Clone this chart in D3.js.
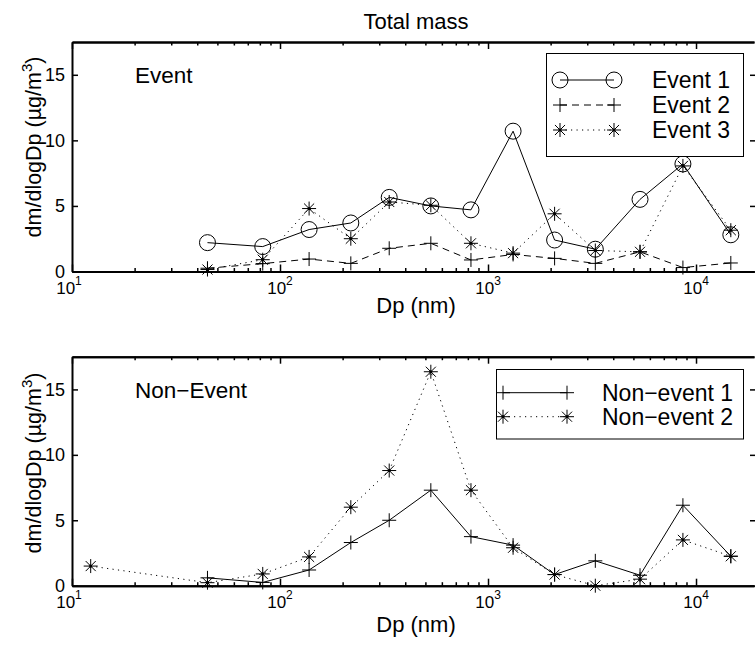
<!DOCTYPE html>
<html>
<head>
<meta charset="utf-8">
<script src="https://cdn.jsdelivr.net/npm/d3@7"></script>
<style>
  html, body { margin: 0; padding: 0; background: #fff; }
  svg { display: block; font-family: "Liberation Sans", Arial, Helvetica, sans-serif; }
</style>
</head>
<body>
<svg id="chart" width="755" height="645"></svg>
<script>
// Impactor stage mid-point diameters (nm)
const diameters = [12.3, 44.8, 82.6, 138, 219, 335, 531, 828, 1320, 2090, 3280, 5380, 8650, 14700];

// Mass size distributions dm/dlogDp (µg/m3); null = stage not reported
const event1 = [null, 2.2, 1.9, 3.2, 3.7, 5.65, 5.0, 4.7, 10.7, 2.4, 1.7, 5.5, 8.2, 2.8];
const event2 = [null, 0.25, 0.6, 0.95, 0.62, 1.77, 2.15, 0.88, 1.3, 1.0, 0.62, 1.5, 0.3, 0.65];
const event3 = [null, 0.15, 0.9, 4.8, 2.5, 5.3, 5.05, 2.15, 1.4, 4.4, 1.6, 1.5, 8.05, 3.15];
const nonEvent1 = [null, 0.6, 0.25, 1.2, 3.3, 5.0, 7.3, 3.75, 3.1, 0.85, 1.9, 0.8, 6.15, 2.25];
const nonEvent2 = [1.5, 0.23, 0.9, 2.2, 6.0, 8.8, 16.35, 7.3, 2.9, 0.85, 0, 0.5, 3.5, 2.25];

const yTicks = [0, 5, 10, 15];
const xMajorTicks = [10, 100, 1000, 10000];
const xExponents = ["1", "2", "3", "4"];

const svg = d3.select("#chart");

const X0 = 72, X1 = 754;
const x = d3.scaleLog().domain([10, 19000]).range([X0, X1]);

const xMinor = [];
[10, 100, 1000].forEach(d => { for (let k = 2; k <= 9; k++) xMinor.push(d * k); });

// marker drawers
function drawMarker(g, type, cx, cy) {
  const s = 7;
  if (type === "circle") {
    g.append("circle").attr("cx", cx).attr("cy", cy).attr("r", 8)
      .attr("fill", "none").attr("stroke", "#000").attr("stroke-width", 1);
  } else if (type === "plus") {
    g.append("path").attr("d", `M${cx - s},${cy}H${cx + s}M${cx},${cy - s}V${cy + s}`)
      .attr("stroke", "#000").attr("stroke-width", 1).attr("fill", "none");
  } else if (type === "star") {
    const d2 = s * 0.72;
    g.append("path").attr("d",
      `M${cx - s},${cy}H${cx + s}M${cx},${cy - s}V${cy + s}` +
      `M${cx - d2},${cy - d2}L${cx + d2},${cy + d2}M${cx - d2},${cy + d2}L${cx + d2},${cy - d2}`)
      .attr("stroke", "#000").attr("stroke-width", 1).attr("fill", "none");
    g.append("circle").attr("cx", cx).attr("cy", cy).attr("r", 1.6).attr("fill", "#000");
  }
}

const dashFor = { solid: null, dashed: "7,5", dotted: "1.2,4.3" };

function panel(cfg) {
  const { top, bottom, series, label, labelY, legend, yLabelCenter, xLabelBaseline } = cfg;
  const y = d3.scaleLinear().domain([0, 17.5]).range([bottom, top]);
  const g = svg.append("g");

  const clipId = "clip" + Math.round(top);
  svg.append("clipPath").attr("id", clipId)
    .append("rect").attr("x", X0).attr("y", top).attr("width", X1 - X0).attr("height", bottom - top);

  // series lines
  const line = d3.line().defined(d => d.v !== null).x(d => x(d.d)).y(d => y(d.v));
  series.forEach(s => {
    const pts = diameters.map((d, i) => ({ d, v: s.values[i] }));
    g.append("path").datum(pts.filter(p => p.v !== null))
      .attr("d", line).attr("fill", "none").attr("stroke", "#000").attr("stroke-width", 1)
      .attr("stroke-dasharray", dashFor[s.style])
      .attr("clip-path", `url(#${clipId})`);
  });
  series.forEach(s => {
    const mg = g.append("g");
    diameters.forEach((d, i) => {
      if (s.values[i] !== null) drawMarker(mg, s.marker, x(d), y(s.values[i]));
    });
  });

  // axes (ticks pointing inward)
  g.append("g").attr("transform", `translate(0,${bottom})`)
    .call(d3.axisBottom(x).tickValues(xMajorTicks).tickSize(-7).tickSizeOuter(0).tickFormat(""));
  g.append("g").attr("transform", `translate(0,${bottom})`)
    .call(d3.axisBottom(x).tickValues(xMinor).tickSize(-3.5).tickSizeOuter(0).tickFormat(""));
  g.append("g").attr("transform", `translate(0,${top})`)
    .call(d3.axisTop(x).tickValues(xMajorTicks).tickSize(-7).tickSizeOuter(0).tickFormat(""));
  g.append("g").attr("transform", `translate(0,${top})`)
    .call(d3.axisTop(x).tickValues(xMinor).tickSize(-3.5).tickSizeOuter(0).tickFormat(""));
  g.append("g").attr("transform", `translate(${X0},0)`)
    .call(d3.axisLeft(y).tickValues(yTicks).tickSize(-6).tickSizeOuter(0).tickPadding(7));
  g.append("g").attr("transform", `translate(${X1 + 2},0)`)
    .call(d3.axisRight(y).tickValues(yTicks).tickSize(-6).tickSizeOuter(0).tickFormat(""));

  g.selectAll(".domain").attr("stroke", "#000").attr("stroke-width", 2);
  g.selectAll(".tick line").attr("stroke", "#000").attr("stroke-width", 1.5);
  g.selectAll(".tick text").attr("font-size", 18).attr("fill", "#000")
    .attr("font-family", '"Liberation Sans", Arial, Helvetica, sans-serif');

  // log-axis labels 10^n
  xMajorTicks.forEach((t, i) => {
    const tx = g.append("text").attr("x", x(t) - (i === 0 ? 3 : 0)).attr("y", bottom + 22)
      .attr("text-anchor", "middle").attr("font-size", 17).attr("fill", "#000");
    tx.append("tspan").text("10");
    tx.append("tspan").attr("dy", -9).attr("font-size", 12).text(xExponents[i]);
  });

  // axis titles
  g.append("text").attr("x", 416).attr("y", xLabelBaseline)
    .attr("text-anchor", "middle").attr("font-size", 22).text("Dp (nm)");
  const yl = g.append("text")
    .attr("transform", `translate(41,${yLabelCenter}) rotate(-90)`)
    .attr("text-anchor", "middle").attr("font-size", 21.5);
  yl.append("tspan").text("dm/dlogDp (µg/m");
  yl.append("tspan").attr("dy", -9).attr("font-size", 15).text("3");
  yl.append("tspan").attr("dy", 9).text(")");

  // panel label
  g.append("text").attr("x", 135).attr("y", labelY).attr("font-size", 22.5).text(label);

  // legend
  const L = legend;
  g.append("rect").attr("x", L.x).attr("y", L.y).attr("width", L.w).attr("height", L.h)
    .attr("fill", "#fff").attr("stroke", "#000").attr("stroke-width", 1);
  series.forEach((s, i) => {
    const cy = L.firstRow + i * L.rowGap;
    g.append("line").attr("x1", L.sx1).attr("x2", L.sx2).attr("y1", cy).attr("y2", cy)
      .attr("stroke", "#000").attr("stroke-width", 1).attr("stroke-dasharray", dashFor[s.style]);
    drawMarker(g, s.marker, L.sx1, cy);
    drawMarker(g, s.marker, L.sx2, cy);
    g.append("text").attr("x", L.tx).attr("y", cy + 8.3).attr("font-size", 23).text(s.name);
  });
}

svg.append("rect").attr("width", 755).attr("height", 645).attr("fill", "#fff");

svg.append("text").attr("x", 416).attr("y", 29).attr("text-anchor", "middle")
  .attr("font-size", 22).text("Total mass");

panel({
  top: 42, bottom: 271.5, label: "Event", labelY: 83, yLabelCenter: 147, xLabelBaseline: 313,
  series: [
    { name: "Event 1", values: event1, marker: "circle", style: "solid" },
    { name: "Event 2", values: event2, marker: "plus", style: "dashed" },
    { name: "Event 3", values: event3, marker: "star", style: "dotted" }
  ],
  legend: { x: 546.5, y: 53.5, w: 197, h: 103, firstRow: 80, rowGap: 25, sx1: 560, sx2: 614, tx: 652 }
});

panel({
  top: 356.7, bottom: 585.7, label: "Non\u2212Event", labelY: 398, yLabelCenter: 463, xLabelBaseline: 632,
  series: [
    { name: "Non\u2212event 1", values: nonEvent1, marker: "plus", style: "solid" },
    { name: "Non\u2212event 2", values: nonEvent2, marker: "star", style: "dotted" }
  ],
  legend: { x: 496.5, y: 369.5, w: 247, h: 69.5, firstRow: 392.7, rowGap: 24, sx1: 503, sx2: 567, tx: 602 }
});
</script>
</body>
</html>
